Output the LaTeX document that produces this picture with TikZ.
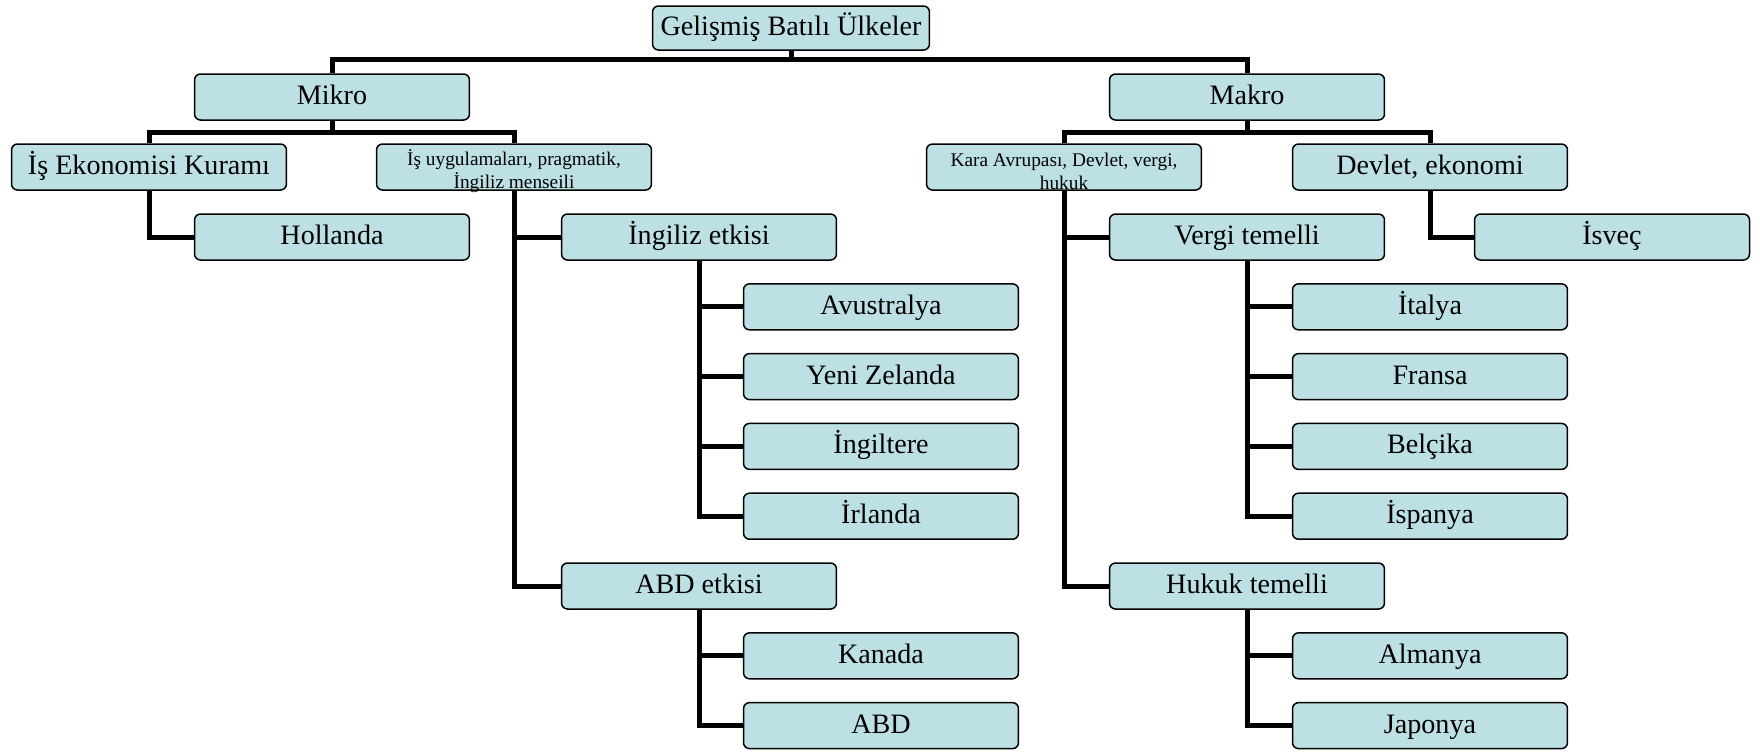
\documentclass[tikz,border=0pt]{standalone}
\usepackage{fontspec}
\setmainfont{Liberation Serif}
\usepackage{tikz}
\usetikzlibrary{positioning}
\definecolor{boxblue}{RGB}{188,224,227}
\definecolor{linkblack}{RGB}{0,0,0}

\begin{document}
\begin{tikzpicture}[x=0.02cm, y=-0.02cm,
    box/.style={draw=black, line width=0.03cm, fill=boxblue, rounded corners=0.12cm,
      minimum width=5.5cm, minimum height=0.92cm, inner sep=0pt,
      text height=0.38cm, text depth=0.08cm,
      font=\fontsize{16}{19}\selectfont},
    smalltext/.style={font=\fontsize{11}{13}\selectfont, align=center},
    link/.style={draw=linkblack, line width=0.1cm, line join=miter}]
  \useasboundingbox (0,0) rectangle (1760,752);

  % Root
  \node[box, minimum width=5.54cm, minimum height=0.88cm] (root) at (791,28) {Gelişmiş Batılı Ülkeler};

  % Micro side
  \node[box] (mikro) at (332,97) {Mikro};
  \node[box] (isek) at (149,167) {İş Ekonomisi Kuramı};
  \node[box] (uyg) at (514,167) {};
  \node[smalltext] at ([yshift=-0.09cm]uyg.center) {İş uygulamaları, pragmatik,\\İngiliz menseili};
  \node[box] (hollanda) at (332,237) {Hollanda};
  \node[box] (ingetki) at (699,237) {İngiliz etkisi};
  \node[box] (abdetki) at (699,586) {ABD etkisi};

  % Macro side
  \node[box] (makro) at (1247,97) {Makro};
  \node[box] (kara) at (1064,167) {};
  \node[smalltext] at ([yshift=-0.09cm]kara.center) {Kara Avrupası, Devlet, vergi,\\hukuk};
  \node[box] (devlet) at (1430,167) {Devlet, ekonomi};
  \node[box] (vergi) at (1247,237) {Vergi temelli};
  \node[box] (isvec) at (1612,237) {İsveç};
  \node[box] (hukuk) at (1247,586) {Hukuk temelli};

  % Upper links
  \draw[link] (root.south) -- ++(0,9) -| (mikro.north);
  \draw[link] (root.south) -- ++(0,9) -| (makro.north);
  \draw[link] (mikro.south) -- ++(0,12) -| (isek.north);
  \draw[link] (mikro.south) -- ++(0,12) -| (uyg.north);
  \draw[link] (makro.south) -- ++(0,12) -| (kara.north);
  \draw[link] (makro.south) -- ++(0,12) -| (devlet.north);
  \draw[link] (isek.south) |- (hollanda.west);
  \draw[link] (uyg.south) |- (ingetki.west);
  \draw[link] (uyg.south) |- (abdetki.west);
  \draw[link] (kara.south) |- (vergi.west);
  \draw[link] (kara.south) |- (hukuk.west);
  \draw[link] (devlet.south) |- (isvec.west);

  % Countries
  \foreach \name/\txt [count=\i] in {avu/Avustralya, yeni/Yeni Zelanda, ingt/İngiltere, irl/İrlanda}{
    \node[box] (\name) at (881,237+69.8*\i) {\txt};
    \draw[link] (ingetki.south) |- (\name.west);
  }
  \foreach \name/\txt [count=\i] in {kan/Kanada, abd/ABD}{
    \node[box] (\name) at (881,586+69.8*\i) {\txt};
    \draw[link] (abdetki.south) |- (\name.west);
  }
  \foreach \name/\txt [count=\i] in {ita/İtalya, fra/Fransa, bel/Belçika, isp/İspanya}{
    \node[box] (\name) at (1430,237+69.8*\i) {\txt};
    \draw[link] (vergi.south) |- (\name.west);
  }
  \foreach \name/\txt [count=\i] in {alm/Almanya, jap/Japonya}{
    \node[box] (\name) at (1430,586+69.8*\i) {\txt};
    \draw[link] (hukuk.south) |- (\name.west);
  }
\end{tikzpicture}
\end{document}
